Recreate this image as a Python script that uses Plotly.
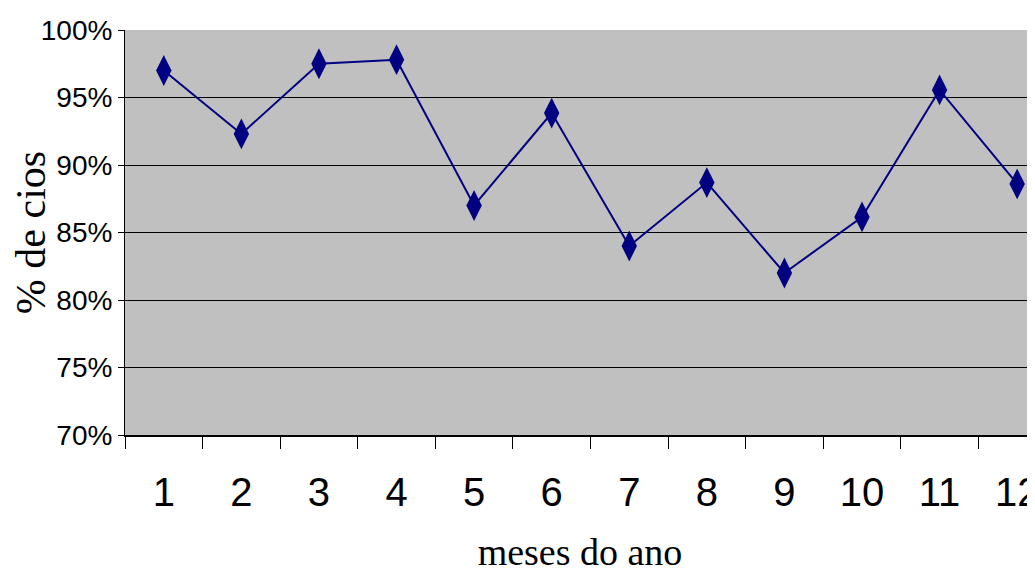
import plotly.graph_objects as go

months = [1, 2, 3, 4, 5, 6, 7, 8, 9, 10, 11, 12]
cios = [0.970, 0.923, 0.975, 0.978, 0.870, 0.9385, 0.840, 0.887, 0.820, 0.8615, 0.9556, 0.886]
y_tickvals = [0.70, 0.75, 0.80, 0.85, 0.90, 0.95, 1.00]
y_ticktext = ["70%", "75%", "80%", "85%", "90%", "95%", "100%"]
x_ticktext = [str(m) for m in months]

fig = go.Figure()
fig.add_trace(go.Scatter(
    x=months, y=cios, mode="lines+markers",
    line=dict(color="#000080", width=2),
    marker=dict(symbol="diamond-tall", size=22, color="#000080"),
    showlegend=False,
))

# page body adds an 8px offset, so the figure is drawn slightly smaller
fig.update_layout(
    width=1027, height=565,
    margin=dict(l=117, r=0, t=22, b=138, autoexpand=False),
    paper_bgcolor="white", plot_bgcolor="#C0C0C0",
    font=dict(family="Liberation Sans, Arial", color="black"),
)
fig.update_xaxes(
    range=[0.5, 12.23], tickvals=months, ticktext=x_ticktext,
    ticks="", showgrid=False, zeroline=False, automargin=False,
    showline=True, linecolor="black", linewidth=2,
    tickfont=dict(size=40, family="Liberation Sans, Arial"),
    ticklabelstandoff=21, ticklabeloverflow="allow",
    minor=dict(ticks="outside", tick0=0.5, dtick=1, ticklen=12, tickcolor="black", tickwidth=1, showgrid=False),
    title=dict(text="meses do ano", font=dict(family="Liberation Serif, Times New Roman", size=38), standoff=33),
)
fig.update_yaxes(
    range=[0.70, 1.00], tickvals=y_tickvals, ticktext=y_ticktext,
    ticks="outside", ticklen=6, tickcolor="black", automargin=False,
    showgrid=True, gridcolor="black", gridwidth=1, zeroline=False,
    showline=True, linecolor="black", linewidth=1,
    tickfont=dict(size=28, family="Liberation Sans, Arial"),
    title=dict(text="% de cios", font=dict(family="Liberation Serif, Times New Roman", size=42), standoff=4),
)

fig.write_html("out.html")
